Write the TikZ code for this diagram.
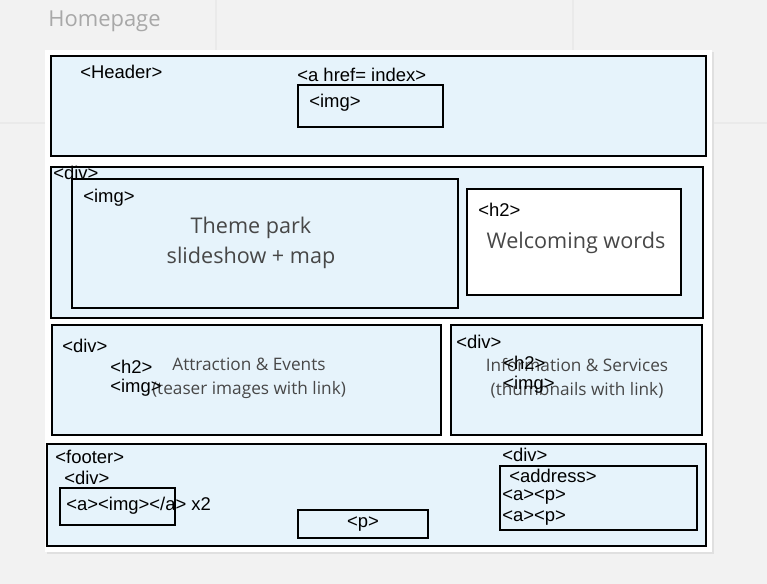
\documentclass[tikz,border=0pt]{standalone}
\usepackage{fontspec}
\setmainfont{Liberation Sans}
\newfontfamily\notefont{Open Sans}
\usetikzlibrary{fit}
\definecolor{pagegray}{HTML}{F2F2F2}
\definecolor{gridgray}{HTML}{EAEAEA}
\definecolor{paleblue}{HTML}{E6F3FB}
\definecolor{notegray}{HTML}{474747}
\definecolor{titlegray}{HTML}{A8A8A8}

\tikzset{
    block/.style={draw, line width=1.6pt, fill=paleblue, inner sep=0pt},
    inbox/.style={draw, line width=1.3pt, inner sep=0pt},
    tag/.style={anchor=west, inner sep=0pt, font=\fontsize{10.5}{12}\selectfont},
    note/.style={inner sep=0pt, text=notegray, align=center, font=\notefont\fontsize{12.3}{17}\selectfont}
}

\begin{document}
\begin{tikzpicture}[x=0.02cm, y=-0.02cm]

    % page background
    \fill[pagegray] (0,0) rectangle (767,584);
    \useasboundingbox (0,0) rectangle (767,584);
    \foreach \gx in {216,573} {
        \draw[gridgray, line width=0.6pt] (\gx,0) -- (\gx,50);
    }
    \draw[gridgray, line width=0.6pt] (0,123) -- (45,123);
    \draw[gridgray, line width=0.6pt] (712,123) -- (767,123);

    \node[anchor=west, inner sep=0pt, text=titlegray, font=\notefont\fontsize{12.5}{14}\selectfont] (title) at (48,21) {Homepage};

    % white panel
    \fill[black!12] (47,52) rectangle (714,554);
    \fill[white] (45,50) rectangle (712,552);

    % header
    \node[block, fit={(51,56) (706,156)}] (header) {};
    \node[tag] (headertag) at (80,72) {<Header>};
    \node[tag] (hreftag) at (297,75) {<a href= index>};
    \node[inbox, fill=paleblue, fit={(298,85) (443,127)}] (logo) {};
    \node[tag] (logotag) at (309,103) {<img>};

    % top div
    \node[block, fit={(51,167) (703,318)}] (topdiv) {};
    \node[inbox, fill=paleblue, fit={(72,179) (458,308)}] (slides) {};
    \node[tag] (topdivtag) at (53,173) {<div>};
    \node[tag] (slidestag) at (83,198) {<img>};
    \node[note] (slidesnote) at (251,243) {Theme park\\slideshow + map};
    \node[inbox, fill=white, fit={(467,189) (681,295)}] (welcome) {};
    \node[tag] (welcometag) at (478,210) {<h2>};
    \node[note] (welcomenote) at (576,243) {Welcoming words};

    % middle divs
    \node[block, fit={(52,325) (441,435)}] (eventsdiv) {};
    \node[tag] (eventsdivtag) at (62,346) {<div>};
    \node[note, font=\notefont\fontsize{9.8}{13.5}\selectfont] (eventsnote) at (249,378) {Attraction \& Events\\(teaser images with link)};
    \node[tag] (eventsh2) at (110,367) {<h2>};
    \node[tag] (eventsimg) at (110,388) {<img>};

    \node[block, fit={(451,325) (702,435)}] (infodiv) {};
    \node[tag] (infodivtag) at (456,342) {<div>};
    \node[note, font=\notefont\fontsize{9.8}{13.5}\selectfont] (infonote) at (577,378) {Information \& Services\\(thumbnails with link)};
    \node[tag] (infoh2) at (503,363) {<h2>};
    \node[tag] (infoimg) at (503,385) {<img>};

    % footer
    \node[block, fit={(47,444) (706,546)}] (footer) {};
    \node[tag] (footertag) at (55,457) {<footer>};
    \node[tag] (socialtag) at (64,478) {<div>};
    \node[inbox, fit={(60,488) (175,525)}] (social) {};
    \node[tag] (sociallinks) at (66,506) {<a><img></a> x2};
    \node[inbox, fit={(298,510) (428,538)}] (copyright) {};
    \node[tag, anchor=center] (copyrighttag) at (copyright) {<p>};
    \node[tag] (contacttag) at (502,455) {<div>};
    \node[inbox, line width=1.1pt, fit={(500,466) (697,530)}] (contact) {};
    \node[tag] (addresstag) at (509,476) {<address>};
    \node[tag] (phonetag) at (502,497) {<a><p>};
    \node[tag] (mailtag) at (502,518) {<a><p>};

\end{tikzpicture}
\end{document}
